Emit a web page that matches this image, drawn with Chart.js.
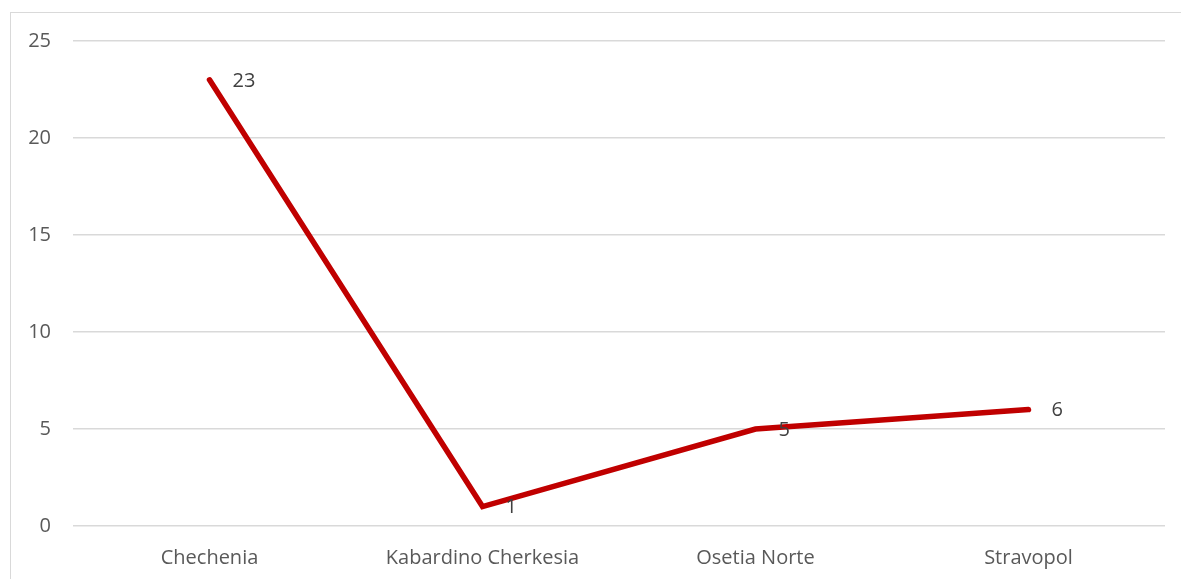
<!DOCTYPE html>
<html>
<head>
<meta charset="utf-8">
<script src="https://cdn.jsdelivr.net/npm/chart.js@4"></script>
<style>
  html, body { margin: 0; padding: 0; background: #fff; overflow: hidden; }
  #frame { position: absolute; left: 10px; top: 12px; width: 1200px; height: 600px; border: 1px solid #d9d9d9; }
  #wrap { position: absolute; left: 0; top: 0; width: 1181px; height: 579px; }
</style>
</head>
<body>
<div id="frame"></div>
<div id="wrap"><canvas id="lineChart"></canvas></div>
<script>
const regions = ['Chechenia', 'Kabardino Cherkesia', 'Osetia Norte', 'Stravopol'];
const counts = [23, 1, 5, 6];
const yTicks = [0, 5, 10, 15, 20, 25];

const FONT = '"Open Sans", sans-serif';

// draws the value next to each point, like the excel "right" label position
const valueLabels = {
    id: 'valueLabels',
    afterDatasetsDraw(chart) {
        const ctx = chart.ctx;
        const meta = chart.getDatasetMeta(0);
        ctx.save();
        ctx.font = '20px ' + FONT;
        ctx.fillStyle = '#404040';
        ctx.textAlign = 'left';
        ctx.textBaseline = 'middle';
        meta.data.forEach((pt, i) => {
            ctx.fillText(String(counts[i]), pt.x + 23, pt.y + 1);
        });
        ctx.restore();
    }
};

function createChart() {
    const ctx = document.getElementById('lineChart').getContext('2d');

    new Chart(ctx, {
        type: 'line',
        data: {
            labels: regions,
            datasets: [{
                data: counts,
                borderColor: '#c00000',
                borderWidth: 5.5,
                borderCapStyle: 'round',
                borderJoinStyle: 'miter',
                pointRadius: 0,
                pointHoverRadius: 0,
                tension: 0,
                fill: false
            }]
        },
        options: {
            responsive: true,
            maintainAspectRatio: false,
            animation: false,
            layout: {
                padding: { left: 10, top: 41, right: 16, bottom: 0 }
            },
            plugins: {
                legend: { display: false },
                tooltip: { enabled: false }
            },
            scales: {
                x: {
                    offset: true,
                    grid: { display: false, drawTicks: false },
                    border: { display: false },
                    ticks: {
                        padding: 20,
                        color: '#595959',
                        font: { family: FONT, size: 20 },
                        maxRotation: 0
                    },
                    afterFit(scale) { scale.height = 53; }
                },
                y: {
                    min: 0,
                    max: 25,
                    afterBuildTicks(scale) {
                        scale.ticks = yTicks.map(v => ({ value: v }));
                    },
                    grid: { color: '#d9d9d9', lineWidth: 1.5, drawTicks: false },
                    border: { display: false },
                    ticks: {
                        padding: 22,
                        color: '#595959',
                        font: { family: FONT, size: 20 }
                    },
                    afterFit(scale) { scale.width = 63; }
                }
            }
        },
        plugins: [valueLabels]
    });
}

createChart();
</script>
</body>
</html>
